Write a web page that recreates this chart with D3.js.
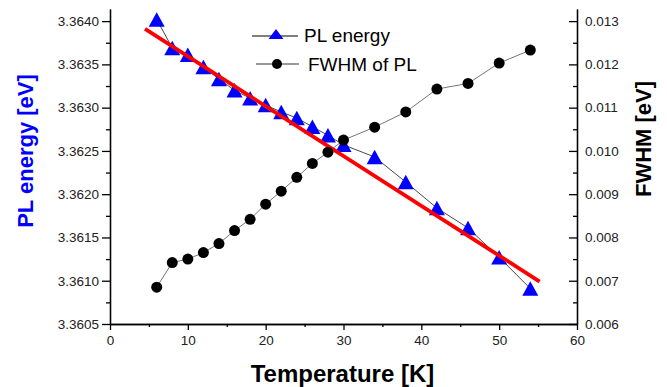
<!DOCTYPE html>
<meta charset="utf-8">
<style>
body { margin: 0; background: #fff; }
svg { display: block; }
.tick text { font: 13.5px "Liberation Sans", Arial, sans-serif; fill: #222; }
.domain, .tick line { stroke: #000; stroke-width: 1.3; }
.lab { font-family: "Liberation Sans", Arial, sans-serif; font-weight: bold; }
.leg { font: 19px "Liberation Sans", Arial, sans-serif; fill: #000; }
</style>
<svg id="chart"></svg>
<script src="https://cdn.jsdelivr.net/npm/d3@7"></script>
<script>
// data
var temps = [6, 8, 10, 12, 14, 16, 18, 20, 22, 24, 26, 28, 30, 34, 38, 42, 46, 50, 54];
var plEnergy = [3.36402, 3.36369, 3.36361, 3.36347, 3.36333, 3.36320, 3.36311, 3.36303, 3.36295,
                3.36288, 3.36278, 3.36268, 3.36257, 3.36243, 3.36214, 3.36184, 3.36161, 3.36127, 3.36091];
var fwhm = [0.00685, 0.00742, 0.00750, 0.00765, 0.00786, 0.00816, 0.00842, 0.00877, 0.00907,
            0.00939, 0.00971, 0.00997, 0.01025, 0.01055, 0.01090, 0.01143, 0.01156, 0.01203, 0.01233];
// linear fit line, its two end points
var fitT = [4.5, 55.2];
var fitE = [3.36391, 3.36099];

var xTicks = [0, 10, 20, 30, 40, 50, 60];
var yTicks = [3.3605, 3.3610, 3.3615, 3.3620, 3.3625, 3.3630, 3.3635, 3.3640];
var y2Ticks = [0.006, 0.007, 0.008, 0.009, 0.010, 0.011, 0.012, 0.013];
var legendNames = ["PL energy", "FWHM of PL"];

var W = 667, H = 387;
var m = {left: 110, right: 90, top: 9, bottom: 63};

var svg = d3.select("#chart").attr("width", W).attr("height", H);

var x = d3.scaleLinear().domain([0, 60]).range([m.left, W - m.right]);
var y = d3.scaleLinear().domain([3.3605, 3.36414]).range([H - m.bottom, m.top]);
var y2 = d3.scaleLinear().domain([0.006, 0.01328]).range([H - m.bottom, m.top]);

// minor ticks first, then major axes on top
function minor(axis, vals) {
  return axis.tickValues(vals).tickFormat("").tickSizeOuter(0);
}
svg.append("g").attr("transform", "translate(0," + (H - m.bottom) + ")")
  .call(minor(d3.axisBottom(x).tickSize(3), d3.range(5, 60, 10)));
svg.append("g").attr("transform", "translate(" + m.left + ",0)")
  .call(minor(d3.axisLeft(y).tickSize(4), d3.range(0, 7).map(function(i) { return 3.36075 + i * 0.0005; })));
svg.append("g").attr("transform", "translate(" + (W - m.right) + ",0)")
  .call(minor(d3.axisLeft(y2).tickSize(4), d3.range(0, 7).map(function(i) { return 0.0065 + i * 0.001; })));

svg.append("g").attr("transform", "translate(0," + (H - m.bottom) + ")")
  .call(d3.axisBottom(x).tickValues(xTicks).tickSize(6).tickSizeOuter(0).tickPadding(5));
svg.append("g").attr("transform", "translate(" + m.left + ",0)")
  .call(d3.axisLeft(y).tickValues(yTicks).tickFormat(d3.format(".4f")).tickSize(8).tickSizeOuter(0).tickPadding(3));
var rAx = svg.append("g").attr("transform", "translate(" + (W - m.right) + ",0)")
  .call(d3.axisLeft(y2).tickValues(y2Ticks).tickFormat(d3.format(".3f")).tickSize(8).tickSizeOuter(0));
// right axis: ticks point inwards, labels outside
rAx.selectAll(".tick text").attr("x", 8).attr("text-anchor", "start");

var pts = temps.map(function(t, i) { return {t: t, e: plEnergy[i], w: fwhm[i]}; });

function tri(w, h) {
  return "M0," + (-h / 2) + "L" + (w / 2) + "," + (h / 2) + "L" + (-w / 2) + "," + (h / 2) + "Z";
}

// connecting lines
svg.append("path").datum(pts)
  .attr("fill", "none").attr("stroke", "#333").attr("stroke-width", 0.9)
  .attr("d", d3.line().x(function(d) { return x(d.t); }).y(function(d) { return y(d.e); }));
svg.append("path").datum(pts)
  .attr("fill", "none").attr("stroke", "#666").attr("stroke-width", 0.9)
  .attr("d", d3.line().x(function(d) { return x(d.t); }).y(function(d) { return y2(d.w); }));

svg.selectAll(".tri").data(pts).enter().append("path")
  .attr("class", "tri")
  .attr("transform", function(d) { return "translate(" + x(d.t) + "," + y(d.e) + ")"; })
  .attr("d", tri(16, 14.5))
  .attr("fill", "#0000ff");

// fit line
svg.append("line")
  .attr("x1", x(fitT[0])).attr("y1", y(fitE[0]))
  .attr("x2", x(fitT[1])).attr("y2", y(fitE[1]))
  .attr("stroke", "#ff0000").attr("stroke-width", 3.8);

svg.selectAll(".dot").data(pts).enter().append("circle")
  .attr("class", "dot")
  .attr("cx", function(d) { return x(d.t); })
  .attr("cy", function(d) { return y2(d.w); })
  .attr("r", 5.5)
  .attr("fill", "#000");

// legend
var leg = svg.append("g");
leg.append("line").attr("x1", 252).attr("x2", 298).attr("y1", 36).attr("y2", 36).attr("stroke", "#000").attr("stroke-width", 1);
leg.append("path").attr("transform", "translate(276,34)").attr("d", tri(15, 10)).attr("fill", "#0000ff");
leg.append("text").attr("class", "leg").attr("x", 304).attr("y", 42).text(legendNames[0]);
leg.append("line").attr("x1", 256).attr("x2", 299).attr("y1", 64).attr("y2", 64).attr("stroke", "#333").attr("stroke-width", 1);
leg.append("circle").attr("cx", 277).attr("cy", 64).attr("r", 5).attr("fill", "#000");
leg.append("text").attr("class", "leg").attr("x", 308).attr("y", 71).text(legendNames[1]);

// axis titles
svg.append("text").attr("class", "lab")
  .attr("x", x(30) - 1).attr("y", 382).attr("text-anchor", "middle")
  .style("font-size", "24px").attr("fill", "#000")
  .text("Temperature [K]");
svg.append("text").attr("class", "lab")
  .attr("transform", "translate(33,151) rotate(-90)").attr("text-anchor", "middle")
  .style("font-size", "22px").attr("fill", "#0000ff")
  .text("PL energy [eV]");
svg.append("text").attr("class", "lab")
  .attr("transform", "translate(651,139) rotate(-90)").attr("text-anchor", "middle")
  .style("font-size", "22px").attr("fill", "#000")
  .text("FWHM [eV]");
</script>
